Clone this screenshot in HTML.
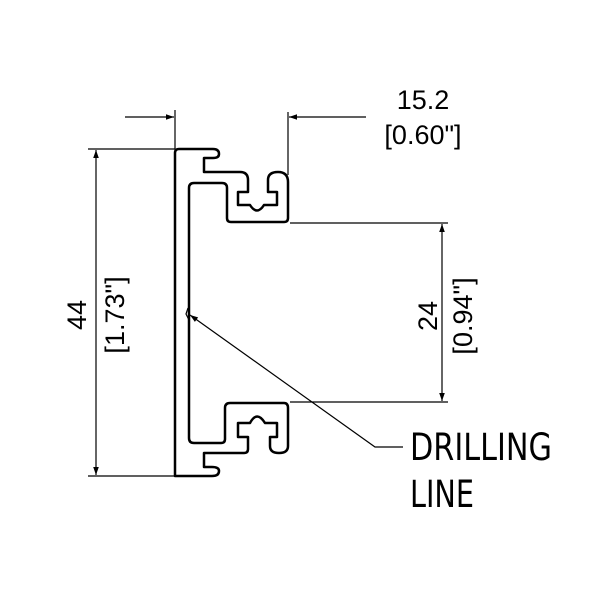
<!DOCTYPE html>
<html><head><style>body{margin:0;background:#fff}svg{display:block}</style></head><body>
<svg width="600" height="600" viewBox="0 0 600 600" xmlns="http://www.w3.org/2000/svg">
<defs><marker id="a" viewBox="0 0 10 10" refX="10" refY="5" markerWidth="16" markerHeight="8" markerUnits="userSpaceOnUse" orient="auto"><path d="M0,1.5 L10,5 L0,8.5 Z" fill="#000"/></marker></defs>
<g fill="none" stroke="#000" stroke-width="2.5" stroke-linejoin="round">
<path d="M175,476 L175,153 Q175,149 179,149 L213,149 Q219,149 219,154 Q219,158 213,158 L204,158 L204,172 L240,172 Q248,172 248,180 L248,192 L238,192 L238,205 L250,205 Q257,216 264,205 L277,205 L277,192 L268,192 L268,180 Q268,172 278,172 Q288,172 288,182 L288,218 Q288,222 284,222 L231,222 Q227,222 227,218 L227,188 Q227,183 222,183 L194,183 Q189,183 189,188 L189,438 Q189,443 194,443 L221,443 Q225,443 225,439 L225,408 Q225,403 230,403 L284,403 Q288,403 288,408 L288,446 Q288,453 279,453 Q270,453 270,446 L270,437 L277,437 L277,423 L265,423 Q257,410 250,423 L238,423 L238,437 L248,437 L248,449 Q248,453 244,453 L204,453 L204,467 L212,467 Q219,467 219,471 Q219,476 212,476 Z"/>
</g>
<g stroke="#000" stroke-width="1.2" fill="none">
<path d="M188,308 L186,314 L189,320"/>
<line x1="88" y1="149" x2="175" y2="149"/>
<line x1="88" y1="476" x2="175" y2="476"/>
<line x1="96" y1="312" x2="96" y2="150" marker-end="url(#a)"/>
<line x1="96" y1="312" x2="96" y2="475" marker-end="url(#a)"/>
<line x1="290" y1="223" x2="448" y2="223"/>
<line x1="290" y1="402" x2="448" y2="402"/>
<line x1="442" y1="312" x2="442" y2="224" marker-end="url(#a)"/>
<line x1="442" y1="312" x2="442" y2="401" marker-end="url(#a)"/>
<line x1="175" y1="110" x2="175" y2="149"/>
<line x1="288" y1="112" x2="288" y2="175"/>
<line x1="125" y1="117" x2="174" y2="117" marker-end="url(#a)"/>
<line x1="366" y1="117" x2="289" y2="117" marker-end="url(#a)"/>
<polyline points="403,447 375,447 190,315" marker-end="url(#a)"/>
</g>
<g font-family="Liberation Sans, sans-serif" font-size="27" fill="#000" text-anchor="middle">
<text x="423" y="109">15.2</text>
<text x="423" y="144">[0.60"]</text>
<text transform="translate(86,315) rotate(-90)">44</text>
<text transform="translate(124,315) rotate(-90)">[1.73"]</text>
<text transform="translate(437,316) rotate(-90)">24</text>
<text transform="translate(472,316) rotate(-90)">[0.94"]</text>
</g>
<g font-family="DejaVu Sans, sans-serif" font-size="37" fill="#000">
<text x="410" y="460" textLength="142" lengthAdjust="spacingAndGlyphs">DRILLING</text>
<text x="410" y="507" textLength="64" lengthAdjust="spacingAndGlyphs">LINE</text>
</g>
</svg>
</body></html>
